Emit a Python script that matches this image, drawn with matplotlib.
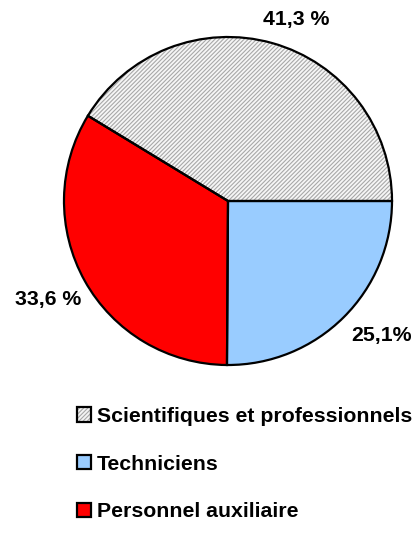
import matplotlib.pyplot as plt
from matplotlib.patches import Patch
from matplotlib.legend_handler import HandlerTuple

# données
categories = ['Scientifiques et professionnels', 'Techniciens', 'Personnel auxiliaire']
valeurs = [41.3, 25.1, 33.6]
etiquettes = ['41,3 %', '25,1%', '33,6 %']
couleurs = ['#f6f6f6', '#99ccff', '#ff0000']

plt.rcParams['font.family'] = ['Liberation Sans', 'DejaVu Sans']
plt.rcParams['hatch.linewidth'] = 0.8
gris_hachure = '#a8a8a8'

fig = plt.figure(figsize=(4.14, 5.35), dpi=100)

# camembert : centre (228, 201) px, rayon 164 px
cx, cy, r = 228, 201, 164
W, H = 414, 535
ax = fig.add_axes([(cx - r) / W, (H - cy - r) / H, 2 * r / W, 2 * r / H])

start = valeurs[0] / 100 * 360  # bord entre gris et bleu à l'horizontale
wedges, _ = ax.pie(valeurs, colors=couleurs, startangle=start, counterclock=False,
                   radius=1, wedgeprops=dict(linewidth=0))
wedges[0].set_hatch('////////')
wedges[0].set_edgecolor(gris_hachure)

# contours noirs
ax.pie(valeurs, startangle=start, counterclock=False, radius=1,
       wedgeprops=dict(fill=False, edgecolor='black', linewidth=1.6))

ax.set_xlim(-1, 1)
ax.set_ylim(-1, 1)
ax.axis('off')

# étiquettes des pourcentages (positions en pixels)
pos_px = [(296, 19.5), (382, 335), (48, 300)]
for txt, (px, py) in zip(etiquettes, pos_px):
    ax.text((px - cx) / r, (cy - py) / r, txt, ha='center', va='center',
            fontsize=15.3, fontweight='bold')

# légende
handles = []
for i, c in enumerate(couleurs):
    if i == 0:
        fond = Patch(facecolor=c, edgecolor=gris_hachure, linewidth=0, hatch='////////')
        bord = Patch(fill=False, edgecolor='black', linewidth=1.6)
        handles.append((fond, bord))
    else:
        handles.append(Patch(facecolor=c, edgecolor='black', linewidth=1.6))

fig.legend(handles, categories, loc='upper left',
           bbox_to_anchor=(77 / W, 1 - 407 / H), bbox_transform=fig.transFigure,
           frameon=False, borderpad=0, borderaxespad=0,
           handlelength=0.67, handleheight=0.67, handletextpad=0.25,
           labelspacing=1.35, prop=dict(size=15.3, weight='bold'),
           handler_map={tuple: HandlerTuple(ndivide=1)})

plt.savefig('out.png', dpi=100)
